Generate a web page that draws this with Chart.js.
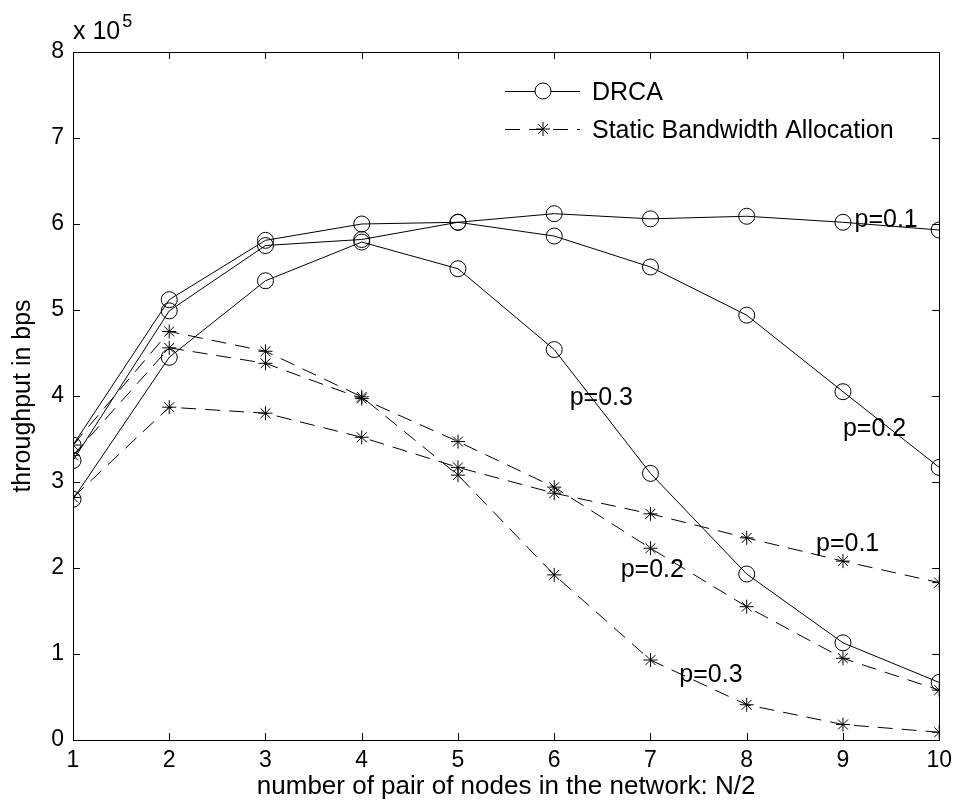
<!DOCTYPE html>
<html lang="en">
<head>
<meta charset="UTF-8">
<title>Throughput vs number of node pairs</title>
<script src="https://cdn.jsdelivr.net/npm/chart.js"></script>
<style>
  html, body { margin: 0; padding: 0; background: #fff; }
  #wrap { width: 959px; height: 808px; }
</style>
</head>
<body>
<div id="wrap"><canvas id="thrChart" width="959" height="808"></canvas></div>
<script>
// number of pair of nodes (N/2)
const nodePairs = [1, 2, 3, 4, 5, 6, 7, 8, 9, 10];

// DRCA throughput in bps
const drcaP01 = [343000, 512000, 581000, 600000, 602000, 612000, 606000, 609000, 602000, 593000];
const drcaP02 = [325000, 499000, 575000, 582000, 602000, 586000, 550000, 494000, 405000, 317000];
const drcaP03 = [280000, 445000, 534000, 579000, 548000, 454000, 310000, 193000, 113000, 67000];

// Static bandwidth allocation throughput in bps
const staticP01 = [282000, 387000, 380000, 352000, 317000, 287000, 263000, 235000, 208000, 183000];
const staticP02 = [331000, 456000, 438000, 397000, 347000, 294000, 223000, 155000, 95000, 58000];
const staticP03 = [343000, 475000, 452000, 399000, 308000, 192000, 93000, 41000, 18000, 9000];

// y tick labels are shown in units of 10^5
const yScaleFactor = 100000;

// curve labels, anchored in data units (left edge, baseline)
const curveLabels = [
  { text: 'p=0.1', x: 9.12, y: 596000 },
  { text: 'p=0.3', x: 6.16, y: 390000 },
  { text: 'p=0.2', x: 9.0, y: 354000 },
  { text: 'p=0.1', x: 8.72, y: 220000 },
  { text: 'p=0.2', x: 6.69, y: 189000 },
  { text: 'p=0.3', x: 7.30, y: 67000 }
];

const FONT = "'Liberation Sans', Arial, Helvetica, sans-serif";
const DASH = [15, 9];

function makeSeries(vals, dashed) {
  return {
    data: vals.map((v, i) => ({ x: nodePairs[i], y: v })),
    borderColor: '#000',
    borderWidth: 1,
    borderDash: dashed ? DASH : [],
    pointStyle: dashed ? 'star' : 'circle',
    pointRadius: dashed ? 7 : 8,
    pointBorderWidth: 1,
    pointBorderColor: '#000',
    pointBackgroundColor: 'rgba(0,0,0,0)',
    tension: 0,
    fill: false
  };
}

function drawStar(ctx, cx, cy, r) {
  ctx.beginPath();
  ctx.moveTo(cx - r, cy); ctx.lineTo(cx + r, cy);
  ctx.moveTo(cx, cy - r); ctx.lineTo(cx, cy + r);
  const d = r * Math.SQRT1_2;
  ctx.moveTo(cx - d, cy - d); ctx.lineTo(cx + d, cy + d);
  ctx.moveTo(cx - d, cy + d); ctx.lineTo(cx + d, cy - d);
  ctx.stroke();
}

// box, inward ticks, exponent, legend and curve labels
const matlabFrame = {
  id: 'matlabFrame',
  afterDatasetsDraw(chart) {
    const { ctx, chartArea: a, scales: { x, y } } = chart;
    ctx.save();
    ctx.strokeStyle = '#000';
    ctx.lineWidth = 1;
    ctx.setLineDash([]);
    ctx.strokeRect(Math.round(a.left) + 0.5, Math.round(a.top) + 0.5,
      Math.round(a.right - a.left), Math.round(a.bottom - a.top));

    const tl = 7;
    ctx.beginPath();
    x.ticks.forEach(t => {
      const px = Math.round(x.getPixelForValue(t.value)) + 0.5;
      ctx.moveTo(px, a.bottom); ctx.lineTo(px, a.bottom - tl);
      ctx.moveTo(px, a.top); ctx.lineTo(px, a.top + tl);
    });
    y.ticks.forEach(t => {
      const py = Math.round(y.getPixelForValue(t.value)) + 0.5;
      ctx.moveTo(a.left, py); ctx.lineTo(a.left + tl, py);
      ctx.moveTo(a.right, py); ctx.lineTo(a.right - tl, py);
    });
    ctx.stroke();

    ctx.fillStyle = '#000';
    ctx.textBaseline = 'alphabetic';
    ctx.textAlign = 'left';

    // x 10^5
    ctx.font = '25px ' + FONT;
    ctx.fillText('x 10', a.left, a.top - 13);
    const w = ctx.measureText('x 10').width;
    ctx.font = '18px ' + FONT;
    ctx.fillText('5', a.left + w + 2, a.top - 25);

    // legend
    const lx0 = 505, lx1 = 580, mx = 543, tx = 592;
    const row1 = 91, row2 = 129;
    ctx.beginPath();
    ctx.moveTo(lx0, row1 + 0.5); ctx.lineTo(mx - 8, row1 + 0.5);
    ctx.moveTo(mx + 8, row1 + 0.5); ctx.lineTo(lx1, row1 + 0.5);
    ctx.stroke();
    ctx.beginPath();
    ctx.arc(mx, row1, 8, 0, Math.PI * 2);
    ctx.stroke();
    ctx.setLineDash(DASH);
    ctx.beginPath();
    ctx.moveTo(lx0, row2 + 0.5); ctx.lineTo(lx1, row2 + 0.5);
    ctx.stroke();
    ctx.setLineDash([]);
    drawStar(ctx, mx, row2, 7);

    ctx.font = '25px ' + FONT;
    ctx.fillText('DRCA', tx, row1 + 9);
    ctx.fillText('Static Bandwidth Allocation', tx, row2 + 9);

    // curve labels
    curveLabels.forEach(l => {
      ctx.fillText(l.text, x.getPixelForValue(l.x), y.getPixelForValue(l.y));
    });
    ctx.restore();
  }
};

const ctx = document.getElementById('thrChart').getContext('2d');
const thrChart = new Chart(ctx, {
  type: 'line',
  data: {
    datasets: [
      makeSeries(drcaP01, false),
      makeSeries(drcaP02, false),
      makeSeries(drcaP03, false),
      makeSeries(staticP01, true),
      makeSeries(staticP02, true),
      makeSeries(staticP03, true)
    ]
  },
  options: {
    responsive: false,
    animation: false,
    devicePixelRatio: 1,
    layout: { padding: { left: 0, top: 52, right: 16, bottom: 0 } },
    plugins: {
      legend: { display: false },
      tooltip: { enabled: false }
    },
    scales: {
      x: {
        type: 'linear',
        min: 1,
        max: 10,
        grid: { display: false, drawTicks: false },
        border: { display: false },
        ticks: {
          stepSize: 1,
          color: '#000',
          padding: 7,
          font: { family: FONT, size: 23 }
        },
        title: {
          display: true,
          text: 'number of pair of nodes in the network: N/2',
          color: '#000',
          padding: { top: 0, bottom: 6 },
          font: { family: FONT, size: 26 }
        },
        afterFit(scale) { scale.height = 68; }
      },
      y: {
        min: 0,
        max: 800000,
        grid: { display: false, drawTicks: false },
        border: { display: false },
        ticks: {
          stepSize: 100000,
          color: '#000',
          padding: 9,
          font: { family: FONT, size: 23 },
          callback: v => String(v / yScaleFactor)
        },
        title: {
          display: true,
          text: 'throughput in bps',
          color: '#000',
          padding: { top: 8, bottom: 0 },
          font: { family: FONT, size: 25 }
        },
        afterFit(scale) { scale.width = 73; }
      }
    }
  },
  plugins: [matlabFrame]
});
</script>
</body>
</html>
